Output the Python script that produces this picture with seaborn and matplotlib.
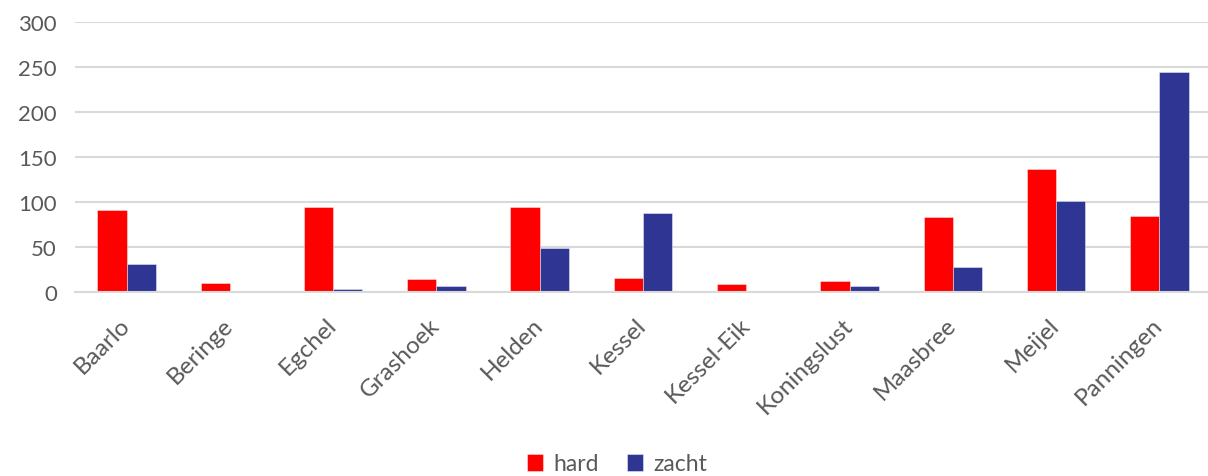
import matplotlib
matplotlib.use("Agg")
import matplotlib.pyplot as plt
import seaborn as sns
import pandas as pd

# Aantallen per kern
kernen = ["Baarlo", "Beringe", "Egchel", "Grashoek", "Helden", "Kessel",
          "Kessel-Eik", "Koningslust", "Maasbree", "Meijel", "Panningen"]
hard = [91, 10, 94, 15, 94, 16, 9, 12, 83, 137, 85]
zacht = [31, 1, 3, 7, 49, 88, 0, 7, 28, 101, 244]
reeksen = ["hard", "zacht"]
kleuren = ["#FF0000", "#2F3592"]
y_ticks = [0, 50, 100, 150, 200, 250, 300]

df = pd.DataFrame({
    "kern": kernen * 2,
    "reeks": [reeksen[0]] * len(kernen) + [reeksen[1]] * len(kernen),
    "aantal": hard + zacht,
})

sns.set_theme(style="white")
plt.rcParams["font.family"] = ["Lato", "DejaVu Sans"]
tekst = "#595959"
raster = "#D9D9D9"

W, H = 1208, 477
fig = plt.figure(figsize=(W / 100, H / 100), dpi=100)
ax = fig.add_axes([75 / W, 1 - 293 / H, 1136 / W, (293 - 23) / H])

sns.barplot(data=df, x="kern", y="aantal", hue="reeks", order=kernen,
            hue_order=reeksen, palette=kleuren, width=0.567, gap=0,
            saturation=1, ax=ax, legend=True, linewidth=0.6,
            edgecolor="#FFFFFF80")

ax.set_ylim(0, 300)
ax.set_xlim(-0.5, len(kernen) - 0.5)
ax.set_yticks(y_ticks)
ax.set_yticklabels([str(v) for v in y_ticks], fontsize=16, color=tekst)
ax.yaxis.grid(True, color=raster, linewidth=1.5)
ax.set_axisbelow(True)
ax.set_xlabel("")
ax.set_ylabel("")
for s in ["top", "right", "left"]:
    ax.spines[s].set_visible(False)
ax.spines["bottom"].set_color(raster)
ax.spines["bottom"].set_linewidth(1.5)
ax.tick_params(axis="both", length=0)
ax.tick_params(axis="y", pad=13)
ax.tick_params(axis="x", pad=21)

ax.set_xticks(range(len(kernen)))
ax.set_xticklabels(kernen, rotation=45, ha="right", va="center",
                   rotation_mode="anchor", fontsize=17.5, color=tekst)

handles, labels = ax.get_legend_handles_labels()
ax.get_legend().remove()
fig.legend(handles, labels, loc="center", bbox_to_anchor=(617 / W, 1 - 465 / H),
           ncol=2, frameon=False, fontsize=16.5, handlelength=0.7,
           handleheight=0.7, handletextpad=0.45, columnspacing=1.2,
           labelcolor=tekst)

fig.savefig("out.png", dpi=100, facecolor="white")
